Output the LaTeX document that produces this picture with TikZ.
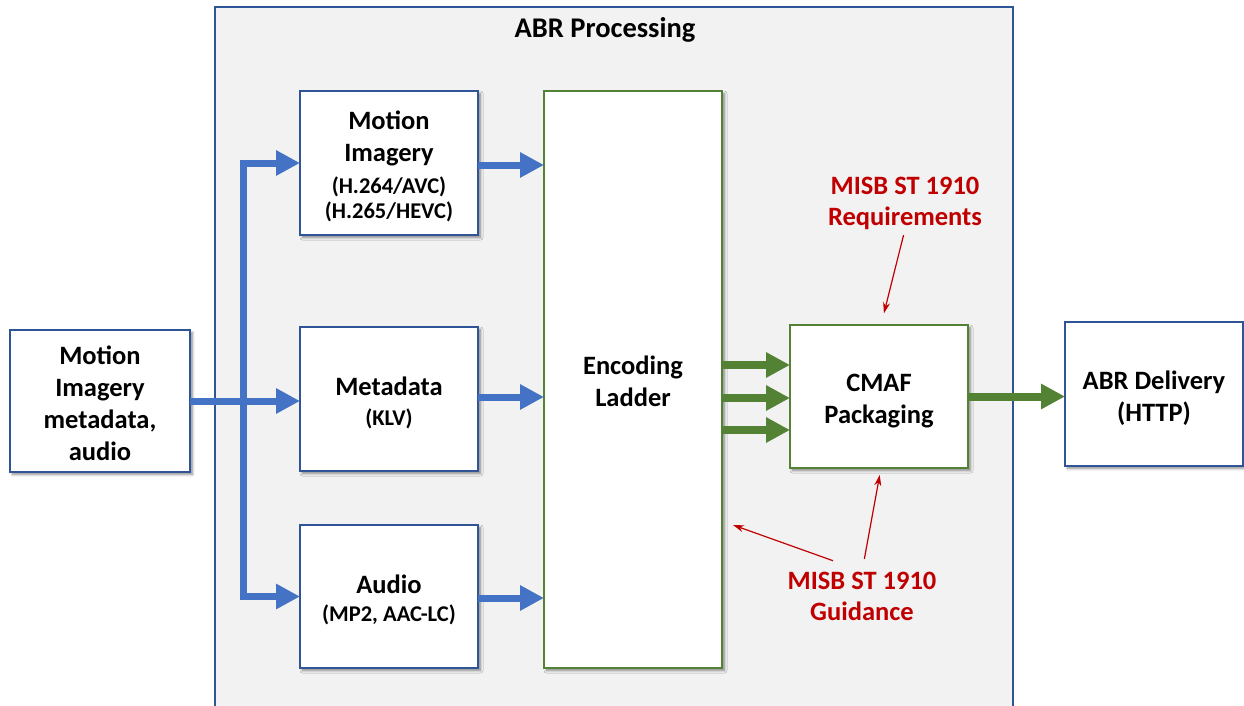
\documentclass[tikz,border=0pt]{standalone}
\usepackage{fontspec}
\setmainfont{Carlito}
\usetikzlibrary{arrows.meta,shadows.blur}
\definecolor{boxblue}{HTML}{2F5597}
\definecolor{flowblue}{HTML}{4472C4}
\definecolor{flowgreen}{HTML}{548235}
\definecolor{notered}{HTML}{C00000}
\definecolor{panelgray}{HTML}{F2F2F2}
\newcommand{\subtxt}{\fontsize{22.5}{26}\selectfont}
% centred stack of lines, inked a little below the box centre
\newcommand{\blklines}[1]{\raisebox{-5pt}[\height][\depth]{\begin{tabular}{@{}c@{}}#1\end{tabular}}}
\begin{document}
\begin{tikzpicture}[x=1pt,y=-1pt,
  every node/.style={inner sep=0pt, outer sep=0pt},
  blkbase/.style={fill=white, line width=1.6pt,
    minimum width=178pt, minimum height=144pt,
    font=\bfseries\fontsize{26.5}{32}\selectfont,
    blur shadow={shadow xshift=2.5pt, shadow yshift=-2.5pt,
      shadow blur radius=2.5pt, shadow blur steps=6, shadow opacity=45}},
  blueblk/.style={blkbase, draw=boxblue},
  greenblk/.style={blkbase, draw=flowgreen},
  bluearrow/.style={draw=flowblue, line width=7pt, line join=miter,
    -{Triangle[length=24pt,width=24pt]}},
  greenarrow/.style={draw=flowgreen, line width=8pt,
    -{Triangle[length=24pt,width=24pt]}},
  notearrow/.style={draw=notered, line width=1.2pt,
    -{Stealth[length=11pt,width=7pt]}},
  notetxt/.style={text=notered, align=center,
    font=\bfseries\fontsize{26.5}{31}\selectfont}
]
\useasboundingbox (0,0) rectangle (1244,706);

% processing panel
\node[draw=boxblue, fill=panelgray, line width=1.3pt,
  minimum width=798pt, minimum height=720pt, anchor=north west] (panel) at (215,7) {};
\node[font=\bfseries\fontsize{28.5}{34}\selectfont] (title) at (605,30) {ABR Processing};

% blocks
\node[blueblk, minimum width=180pt, minimum height=142pt] (src) at (100,401)
  {\blklines{Motion\\Imagery\\metadata,\\audio}};
\node[blueblk] (mi) at (389,163)
  {\blklines{Motion\\Imagery\\{\subtxt (H.264/AVC)}\\[-7pt]{\subtxt (H.265/HEVC)}}};
\node[blueblk] (md) at (389,399)
  {\blklines{Metadata\\[-2pt]{\subtxt (KLV)}}};
\node[blueblk, minimum height=143pt] (au) at (389,596.5)
  {\blklines{Audio\\[-4pt]{\subtxt (MP2, AAC-LC)}}};
\node[greenblk, minimum height=577pt] (enc) at (633,379.5)
  {\blklines{Encoding\\Ladder}};
\node[greenblk, minimum height=143pt] (cmaf) at (879,396.5)
  {\blklines{CMAF\\Packaging}};
\node[blueblk] (del) at (1154,394)
  {\blklines{ABR Delivery\\(HTTP)}};

% input fan-out
\coordinate (split) at (243,401);
\draw[bluearrow] (src.east |- split) -- (md.west |- split);
\draw[bluearrow] (split) |- (mi.west);
\draw[bluearrow] (split) |- (au.west);

% streams into the encoding ladder
\draw[bluearrow] ([yshift=-2pt]mi.east) -- ([yshift=-2pt]mi.east -| enc.west);
\draw[bluearrow] ([yshift=2pt]md.east) -- ([yshift=2pt]md.east -| enc.west);
\draw[bluearrow] ([yshift=-1.5pt]au.east) -- ([yshift=-1.5pt]au.east -| enc.west);

% ladder renditions into packaging
\draw[greenarrow] ([yshift=31.5pt]enc.east |- cmaf.west) -- ([yshift=31.5pt]cmaf.west);
\draw[greenarrow] ([yshift=-1.5pt]enc.east |- cmaf.west) -- ([yshift=-1.5pt]cmaf.west);
\draw[greenarrow] ([yshift=-33.5pt]enc.east |- cmaf.west) -- ([yshift=-33.5pt]cmaf.west);

% packaging to delivery
\draw[greenarrow] (cmaf.east) -- (cmaf.east -| del.west);

% standard references
\node[notetxt] (req) at (905,203) {MISB ST 1910\\Requirements};
\node[notetxt] (gd) at (862,596) {MISB ST 1910\\Guidance};
\coordinate (ladderpt) at (733,525);
\draw[notearrow, shorten <=6pt, shorten >=12pt] (req.south) -- ([xshift=2pt]cmaf.north);
\draw[notearrow, shorten <=13pt, shorten >=7pt] (gd.north) -- ([xshift=2pt]cmaf.south);
\draw[notearrow] ([xshift=-29pt,yshift=11pt]gd.north) -- (ladderpt);
\end{tikzpicture}
\end{document}
